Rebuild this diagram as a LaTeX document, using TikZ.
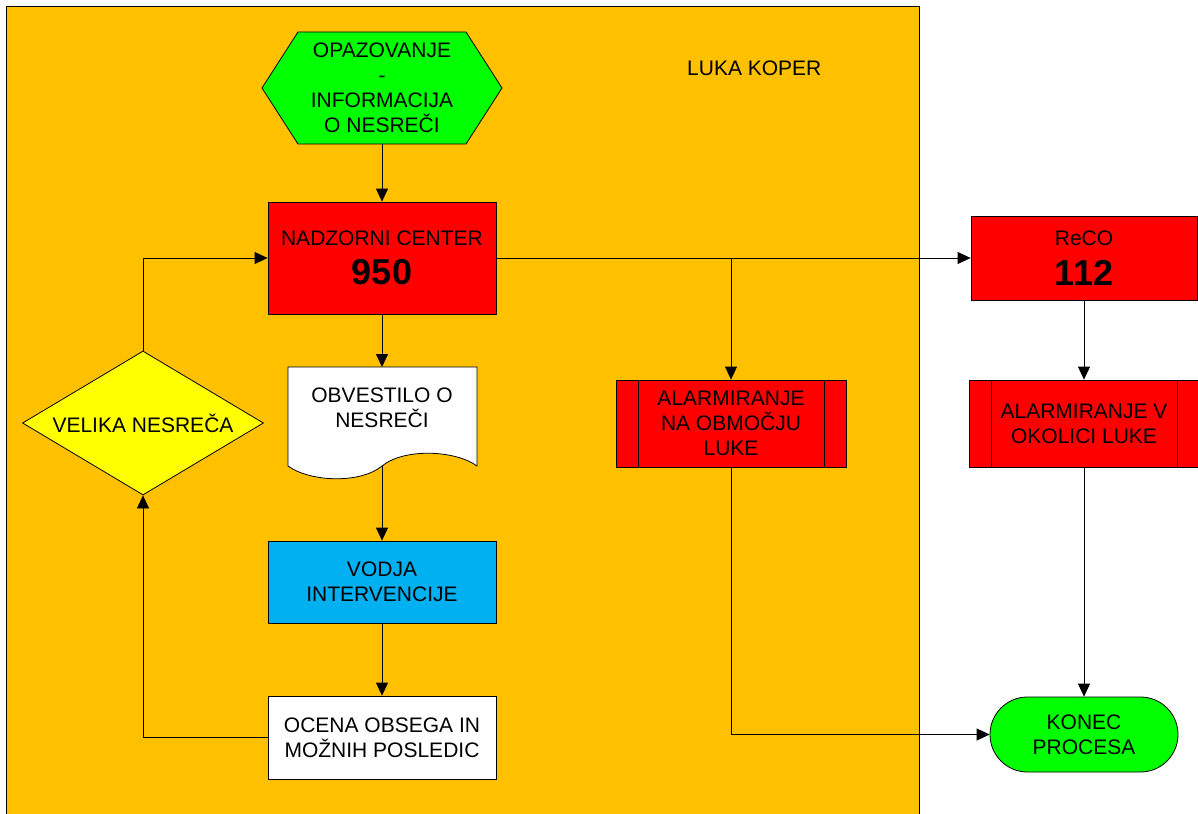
\documentclass[tikz,border=0pt]{standalone}
\usepackage{fontspec}
\setmainfont{Liberation Sans}
\usepackage{xcolor}
\usetikzlibrary{shapes.geometric,shapes.misc,arrows.meta}
\definecolor{lukaorange}{HTML}{FFC000}
\definecolor{boxred}{HTML}{FF0000}
\definecolor{boxgreen}{HTML}{00FF00}
\definecolor{boxblue}{HTML}{00B0F0}
\definecolor{boxyellow}{HTML}{FFFF00}
\newcommand{\bignum}[1]{{\fontsize{36}{36}\selectfont\bfseries #1}}

\begin{document}
\begin{tikzpicture}[x=1pt, y=-1pt,
  font=\fontsize{21}{25}\selectfont,
  >={Triangle[length=13pt,width=12pt]},
  conn/.style={line width=0.8pt},
  flow/.style={conn, ->},
  box/.style={draw, conn, align=center, inner sep=0pt, minimum width=228pt},
  procbox/.style={box, minimum width=230pt, minimum height=87pt, fill=boxred,
    path picture={\draw[conn] ([xshift=22pt]path picture bounding box.north west) -- ([xshift=22pt]path picture bounding box.south west)
      ([xshift=-22pt]path picture bounding box.north east) -- ([xshift=-22pt]path picture bounding box.south east);}},
  decbox/.style={diamond, draw, conn, fill=boxyellow, inner sep=0pt, aspect=1.67, minimum width=241pt, minimum height=144pt},
  termbox/.style={rounded rectangle, draw, conn, fill=boxgreen, align=center, inner sep=0pt, minimum width=188pt, minimum height=75pt},
  txt/.style={align=center, inner sep=0pt}]
 \useasboundingbox (0,0) rectangle (1198,813);
 % port area
 \fill [lukaorange] (6,6) rectangle (919,820);
 \draw [conn] (6,820) -- (6,6) -- (919,6) -- (919,820);
 \node [anchor=base west, inner sep=0pt] (luka) at (687,76) {LUKA KOPER};

 % start
 \draw [conn, fill=boxgreen] (262,88) -- (298,32) -- (466,32) -- (502,88) -- (466,144) -- (298,144) -- cycle;
 \node [txt, minimum height=112pt] (obs) at (382,88) {OPAZOVANJE\\-\\INFORMACIJA\\O NESREČI};

 \node [box, fill=boxred, minimum height=112pt] (nc) at (382,258) {NADZORNI CENTER\\[13pt]\bignum{950}};

 % document
 \draw [conn, fill=white] (288,367) -- (477,367) -- (477,466)
   .. controls (455,450) and (404,448) .. (382,466)
   .. controls (360,484) and (310,482) .. (288,466) -- cycle;
 \coordinate (obvt) at (382,367);
 \coordinate (obvb) at (382,466);
 \node [txt] (obv) at (382,408) {OBVESTILO O\\NESREČI};

 \node [box, fill=boxblue, minimum height=82pt] (vodja) at (382,582) {VODJA\\INTERVENCIJE};
 \node [box, fill=white, minimum height=83pt] (ocena) at (382,737.5) {OCENA OBSEGA IN\\MOŽNIH POSLEDIC};
 \node [decbox] (velika) at (143,423) {VELIKA NESREČA};

 \node [procbox] (alarm1) at (731,423.5) {ALARMIRANJE\\NA OBMOČJU\\LUKE};
 \coordinate (br) at (731,258);

 \node [box, fill=boxred, minimum width=226pt, minimum height=84pt] (reco) at (1084,258) {ReCO\\[13pt]\bignum{112}};
 \node [procbox] (alarm2) at (1084,423.5) {ALARMIRANJE V\\OKOLICI LUKE};
 \node [termbox] (konec) at (1084,734.5) {KONEC\\PROCESA};

 % connectors
 \draw [flow] (obs.south) -- (nc.north);
 \draw [flow] (nc.south) -- (obvt);
 \draw [flow] (obvb) -- (vodja.north);
 \draw [flow] (vodja.south) -- (ocena.north);
 \draw [flow] (ocena.west) -| (velika.south);
 \draw [flow] (velika.north) |- (nc.west);
 \draw [flow] (nc.east) -- (reco.west);
 \draw [flow] (br) -- (alarm1.north);
 \draw [flow] (alarm1.south) |- (konec.west);
 \draw [flow] (reco.south) -- (alarm2.north);
 \draw [flow] (alarm2.south) -- (konec.north);
\end{tikzpicture}
\end{document}
